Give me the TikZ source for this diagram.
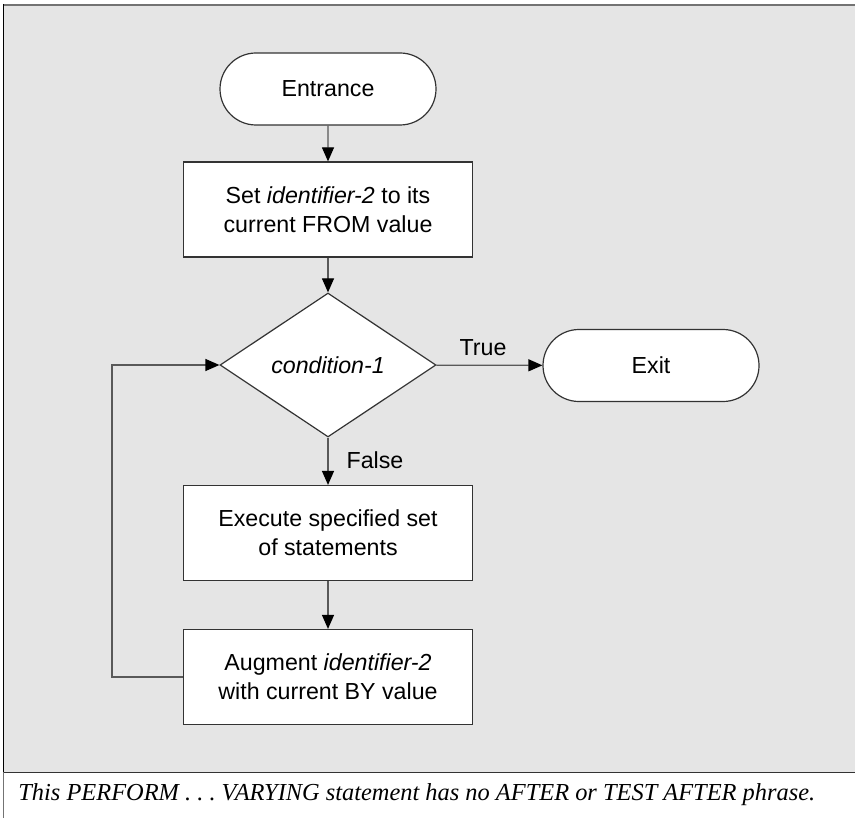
\documentclass[tikz,border=0pt]{standalone}
\usepackage{fontspec}
\setmainfont{Liberation Sans}
\newfontfamily\capfont{Liberation Serif}
\usetikzlibrary{shapes.geometric,shapes.misc,arrows.meta}
\begin{document}
\begin{tikzpicture}[x=0.5pt,y=-0.5pt,
  every node/.style={font=\fontsize{11.6}{14.5}\selectfont},
  proc/.style={draw=black!80, fill=white, line width=0.6pt, minimum width=144.5pt, minimum height=47.5pt, inner sep=0pt, align=center},
  term/.style={draw=black!80, fill=white, line width=0.6pt, rounded rectangle, minimum width=108pt, minimum height=36pt, inner sep=0pt},
  dec/.style={draw=black!80, fill=white, line width=0.6pt, diamond, minimum width=108pt, minimum height=72pt, inner sep=0pt},
  conn/.style={draw=black!65, line width=0.6pt, -{Triangle[length=7pt,width=6pt,color=black]}},
  lbl/.style={inner sep=0pt}
]
\useasboundingbox (0,0) rectangle (855,818);
\fill[gray!20] (4,5) rectangle (855,772);
\draw[black!55, line width=1pt] (4,5) -- (855,5);
\draw[black, line width=0.8pt] (3.5,4) -- (3.5,772);
\draw[black!55, line width=0.8pt] (3.5,772) -- (3.5,818);
\draw[black!80, line width=0.8pt] (4,772.5) -- (855,772.5);

\node[term] (entr) at (328,89) {Entrance};
\node[proc] (set) at (328,209.5) {Set \textit{identifier-2} to its\\current FROM value};
\node[dec] (cond) at (328,365) {\textit{condition-1}};
\node[term] (exit) at (651,365.5) {Exit};
\node[proc] (exec) at (328,533) {Execute specified set\\of statements};
\node[proc] (aug) at (328,677) {Augment \textit{identifier-2}\\with current BY value};
\coordinate (lb) at (112,677);

\node[lbl] (truelbl) at (483,348) {True};
\node[lbl] (falselbl) at (375,460) {False};

\draw[conn] (entr) -- (set);
\draw[conn] (set) -- (cond);
\draw[conn] (cond) -- (exit);
\draw[conn] (cond) -- (exec);
\draw[conn] (exec) -- (aug);
\draw[conn] (aug.west) -- (lb) |- (cond.west);

\node[anchor=west, inner sep=0pt, font=\capfont\itshape\fontsize{12.2}{14}\selectfont] (cap) at (18,795) {This PERFORM .\ .\ .\ VARYING statement has no AFTER or TEST AFTER phrase.};
\end{tikzpicture}
\end{document}
